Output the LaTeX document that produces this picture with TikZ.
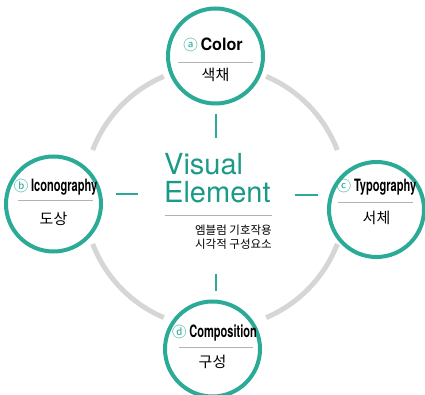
\documentclass[tikz,border=0pt]{standalone}
\usepackage{fontspec}
\setmainfont{TeX Gyre Heros}
\newfontfamily\kfont{Noto Sans CJK KR}
\definecolor{teal0}{HTML}{2BAA98}
\definecolor{tealdark}{HTML}{1B9A88}
\definecolor{ringgray}{HTML}{D6D6D6}
\newcommand{\narrow}[1]{\scalebox{0.65}[1]{#1}}
\newcommand{\circlet}[1]{{\mdseries\kfont\fontsize{14.5}{14}\selectfont\color{teal0}#1}}
\tikzset{
  elem/.style={circle, draw=teal0, line width=4pt, minimum size=95pt, inner sep=0pt, fill=white},
  lab/.style={font=\fontsize{17}{17}\selectfont\bfseries, inner sep=0pt},
  kor/.style={font=\kfont\fontsize{15}{15}\selectfont, inner sep=0pt},
  divider/.style={draw=gray!60, line width=0.6pt},
  tick/.style={draw=teal0, line width=1.5pt},
  ring/.style={draw=ringgray, line width=5pt},
}
\begin{document}
\begin{tikzpicture}[x=1pt,y=1pt, line join=round]
  \useasboundingbox (0,0) rectangle (425,395);
  \coordinate (ringc) at (215,198);
  % grey ring in four pieces
  \foreach \a in {21,113,201,293}
    \draw[ring] (ringc) ++(\a:131) arc[start angle=\a, delta angle=46, radius=131];
  % short teal marks
  \draw[tick] (216,281) -- (216,257);
  \draw[tick] (116,201) -- (138,201);
  \draw[tick] (295,200) -- (318,200);
  \draw[tick] (216,121) -- (216,104);
  % the four elements
  \node[elem] (color) at (215.5,339) {};
  \node[elem] (icon) at (53.5,191) {};
  \node[elem] (typo) at (376.5,185.5) {};
  \node[elem] (compo) at (212.5,46) {};
  \node[lab] (colorlab) at (213,350) {\circlet{ⓐ}\,\scalebox{0.95}[1]{Color}};
  \draw[divider] (178,333) -- (253,333);
  \node[kor] (colorkor) at (215.5,320) {색채};
  \node[lab] (iconlab) at (55.5,208) {\circlet{ⓑ}\,\narrow{Iconography}};
  \draw[divider] (18,194.5) -- (93,194.5);
  \node[kor] (iconkor) at (53.5,176) {도상};
  \node[lab] (typolab) at (376.5,208) {\circlet{ⓒ}\,\narrow{Typography}};
  \draw[divider] (338,193) -- (413,193);
  \node[kor] (typokor) at (376.5,177) {서체};
  \node[lab] (compolab) at (214.5,62) {\circlet{ⓓ}\,\narrow{Composition}};
  \draw[divider] (179,48) -- (253,48);
  \node[kor] (compokor) at (212.5,33) {구성};
  % centre
  \node[anchor=base west, inner sep=0pt, text=tealdark, font=\fontsize{29}{29}\selectfont] (visual) at (164,220) {Visual};
  \node[anchor=base west, inner sep=0pt, text=tealdark, font=\fontsize{29}{29}\selectfont] (element) at (164,192) {Element};
  \draw[divider] (165,180) -- (272,180);
  \node[anchor=east, align=right, inner sep=0pt, font=\kfont\fontsize{11.5}{14}\selectfont] (desc) at (272,158) {엠블럼 기호작용\\시각적 구성요소};
\end{tikzpicture}
\end{document}
